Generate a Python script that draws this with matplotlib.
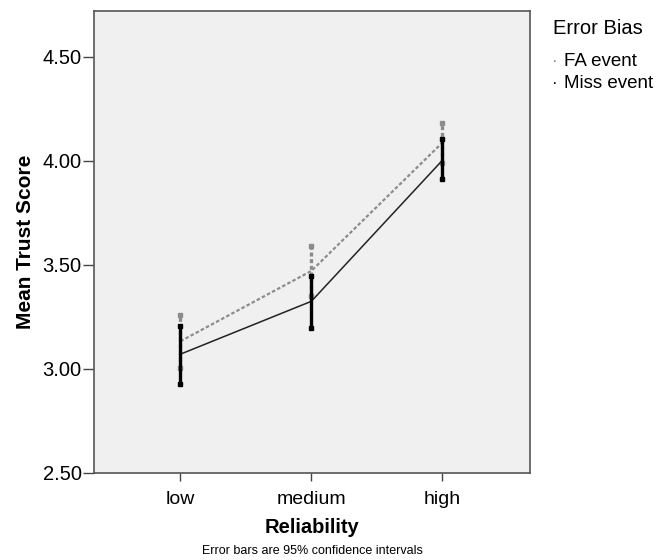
import matplotlib
matplotlib.use('Agg')
import matplotlib.pyplot as plt
import numpy as np

plt.rcParams['font.family'] = ['Liberation Sans', 'DejaVu Sans']

# ── Data ───────────────────────────────────────────────────────
categories = ['low', 'medium', 'high']
fa_mean = [3.133, 3.471, 4.087]
fa_lo = [3.006, 3.352, 3.991]
fa_hi = [3.260, 3.590, 4.183]
miss_mean = [3.071, 3.325, 4.002]
miss_lo = [2.927, 3.199, 3.911]
miss_hi = [3.205, 3.445, 4.106]
yticks = [2.50, 3.00, 3.50, 4.00, 4.50]

# ── Figure ─────────────────────────────────────────────────────
fig = plt.figure(figsize=(6.63, 5.6), dpi=100)
ax = fig.add_axes([94 / 663, 1 - 473 / 560, (530 - 94) / 663, (473 - 11) / 560])
ax.set_facecolor('#F0F0F0')

x = np.arange(len(categories))

# FA event: dotted grey line + dashed grey CI bars
ax.plot(x, fa_mean, color='#8C8C8C', lw=1.6, ls=(0, (1.6, 1.0)), zorder=2)
for xi, lo, hi in zip(x, fa_lo, fa_hi):
    ax.plot([xi, xi], [lo, hi], color='#8C8C8C', lw=2.4, ls=(0, (1.2, 0.8)),
            solid_capstyle='butt', zorder=3)
    ax.plot([xi, xi], [lo, hi], ls='none', marker='s', ms=2.6, color='#8C8C8C', zorder=3)

# Miss event: solid black line + black CI bars
ax.plot(x, miss_mean, color='#222222', lw=1.1, zorder=4)
for xi, lo, hi in zip(x, miss_lo, miss_hi):
    ax.plot([xi, xi], [lo, hi], color='black', lw=2.4, solid_capstyle='butt', zorder=5)
    ax.plot([xi, xi], [lo, hi], ls='none', marker='s', ms=2.6, color='black', zorder=5)

ax.set_xlim(-0.66, 2.67)
ax.set_ylim(2.5, 4.72)
ax.set_xticks(x)
ax.set_xticklabels(categories, fontsize=14)
ax.set_yticks(yticks)
ax.set_yticklabels([f'{v:.2f}' for v in yticks], fontsize=14.5)
ax.tick_params(axis='y', length=8, width=1, color='#444444', pad=1)
ax.tick_params(axis='x', length=6, width=1, color='#444444', pad=7)
for s in ax.spines.values():
    s.set_color('#555555')
    s.set_linewidth(1.2)

ax.set_ylabel('Mean Trust Score', fontsize=15, fontweight='bold', labelpad=5)
ax.set_xlabel('Reliability', fontsize=14.5, fontweight='bold', labelpad=7)

# Legend (SPSS-like)
fig.text(553 / 663, 1 - 29 / 560, 'Error Bias', fontsize=14.5, va='center', ha='left')
fig.text(552 / 663, 1 - 61 / 560, '\u00b7', fontsize=12, color='#8C8C8C', va='center', ha='left')
fig.text(564 / 663, 1 - 61 / 560, 'FA event', fontsize=13.5, va='center', ha='left')
fig.text(552 / 663, 1 - 83 / 560, '\u00b7', fontsize=12, color='black', va='center', ha='left')
fig.text(564 / 663, 1 - 83 / 560, 'Miss event', fontsize=13.5, va='center', ha='left')

fig.text(312 / 663, 1 - 551 / 560, 'Error bars are 95% confidence intervals',
         fontsize=9, ha='center', va='center')

fig.savefig('out.png', dpi=100, facecolor='white')
